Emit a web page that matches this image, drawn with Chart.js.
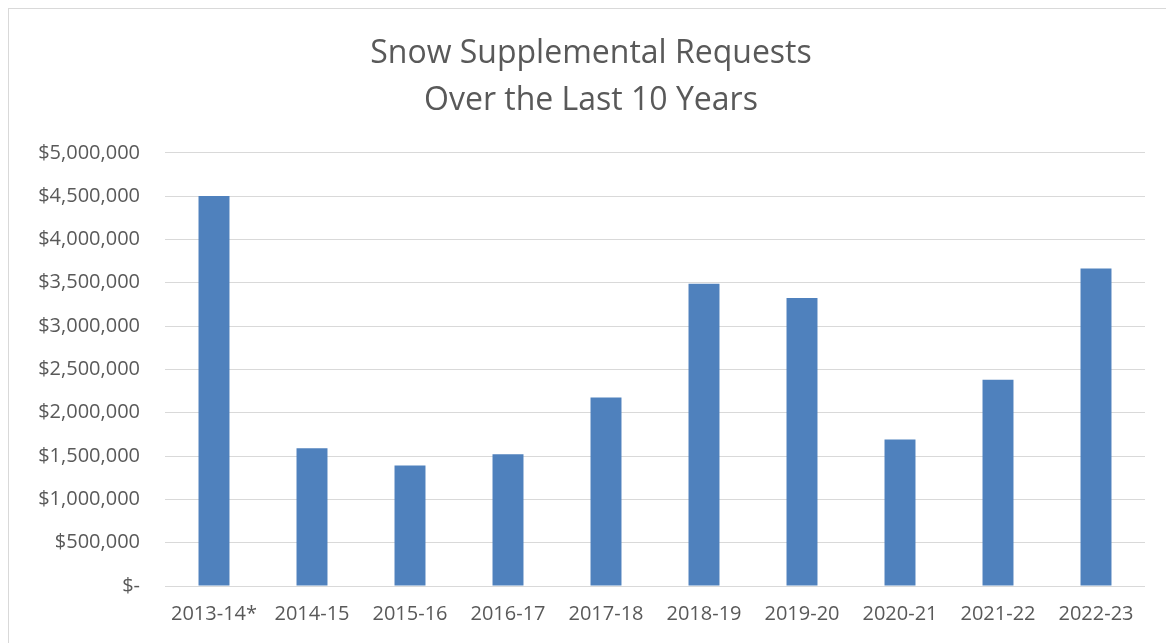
<!DOCTYPE html>
<html>
<head>
<meta charset="utf-8">
<script src="https://cdn.jsdelivr.net/npm/chart.js@4"></script>
<style>
  html, body { margin: 0; padding: 0; background: #fff; }
  #wrap { position: relative; width: 1166px; height: 643px; }
  #frame { position: absolute; left: 8px; top: 8px; width: 1170px; height: 650px; border: 1px solid #d9d9d9; box-sizing: border-box; }
  canvas { position: absolute; left: 0; top: 0; }
</style>
</head>
<body>
<div id="wrap">
  <div id="frame"></div>
  <canvas id="myChart" width="1166" height="643"></canvas>
</div>
<script>
'use strict';
let seasons = ['2013-14*', '2014-15', '2015-16', '2016-17', '2017-18', '2018-19', '2019-20', '2020-21', '2021-22', '2022-23'];
let requests = [4500000, 1590000, 1390000, 1520000, 2175000, 3490000, 3325000, 1690000, 2380000, 3665000];
let titleLines = ['Snow Supplemental Requests', 'Over the Last 10 Years'];
let yMax = 5000000;
let yStep = 500000;

let fontFamily = '"Open Sans", sans-serif';
let textColor = '#595959';

function money(value){
    if (value === 0) {
        return '$-';
    }
    return '$' + value.toLocaleString('en-US');
}

let ctx = document.getElementById('myChart').getContext('2d');
let myChart = new Chart(ctx, {
    type: 'bar',
    data: {
        labels: seasons,
        datasets: [{
            label: 'Requests',
            data: requests,
            backgroundColor: '#4f81bd',
            borderWidth: 0,
            barPercentage: 0.316,
            categoryPercentage: 1
        }]
    },
    options: {
        responsive: false,
        animation: false,
        layout: {
            padding: { left: 37, right: 21, top: 8, bottom: 1 }
        },
        plugins: {
            legend: { display: false },
            tooltip: { enabled: false },
            title: {
                display: true,
                text: titleLines,
                color: textColor,
                font: { family: fontFamily, size: 32, weight: 'normal', lineHeight: 1.45 },
                padding: { top: 23, bottom: 29 }
            }
        },
        scales: {
            x: {
                grid: { display: false, drawTicks: false },
                border: { display: false },
                ticks: {
                    color: textColor,
                    font: { family: fontFamily, size: 20, lineHeight: 1.2 },
                    padding: 16,
                    maxRotation: 0
                }
            },
            y: {
                min: 0,
                max: yMax,
                afterFit: function(scale){ scale.width = 128; },
                grid: { color: '#d9d9d9', lineWidth: 1, drawTicks: false },
                border: { display: false },
                ticks: {
                    stepSize: yStep,
                    color: textColor,
                    font: { family: fontFamily, size: 20 },
                    padding: 25,
                    callback: function(value){ return money(value); }
                }
            }
        }
    }
});
</script>
</body>
</html>
